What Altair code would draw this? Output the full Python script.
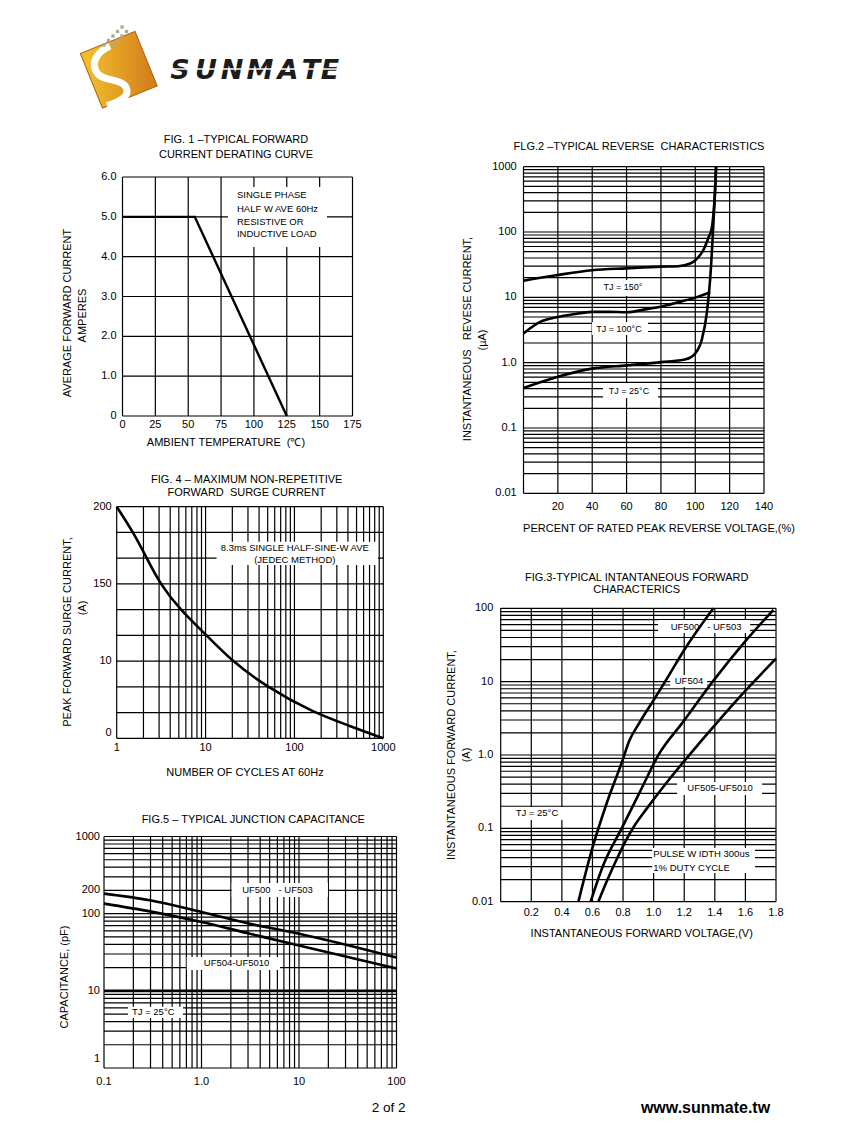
import altair as alt
import pandas as pd

FONT = "Liberation Sans"
W, H = 831, 1109
NB = "\u00a0"

# ---------------- Fig 1 data ----------------
F1_XTICKS = [0, 25, 50, 75, 100, 125, 150, 175]
F1_XLABELS = ["0", "25", "50", "75", "100", "125", "150", "175"]
F1_YTICKS = [0, 1, 2, 3, 4, 5, 6]
F1_YLABELS = ["0", "1.0", "2.0", "3.0", "4.0", "5.0", "6.0"]
F1_TEMP = [0, 55, 125]
F1_AMPS = [5.0, 5.0, 0.0]
F1_NOTE = ["SINGLE PHASE", "HALF W AVE 60Hz", "RESISTIVE OR", "INDUCTIVE LOAD"]
F1_NOTE_Y = [5.55, 5.2, 4.87, 4.57]

# ---------------- Fig 2 data ----------------
F2_XTICKS = [0, 20, 40, 60, 80, 100, 120, 140]
F2_XLAB_POS = [20, 40, 60, 80, 100, 120, 140]
F2_XLABELS = ["20", "40", "60", "80", "100", "120", "140"]
F2_YLAB_POS = [0.01, 0.1, 1, 10, 100, 1000]
F2_YLABELS = ["0.01", "0.1", "1.0", "10", "100", "1000"]
F2_X150 = [0, 20, 40, 60, 80, 90, 97, 100, 104.7, 107.6, 109.6, 110.5, 111.7, 112.1]
F2_Y150 = [18, 22, 26, 27.8, 29.5, 30, 33, 37, 53, 81, 115, 182, 525, 1000]
F2_X100 = [0, 9.7, 20, 29, 40, 50, 60, 71.6, 80, 90.7, 100, 108.7]
F2_Y100 = [2.8, 4.2, 5.0, 5.5, 6.0, 6.0, 5.9, 6.6, 7.2, 8.5, 9.9, 12]
F2_X25 = [0, 20, 40, 60, 80, 94.5, 100, 103.9, 106.8, 108.7, 110.2, 111.2, 112.1]
F2_Y25 = [0.41, 0.61, 0.81, 0.91, 1.02, 1.13, 1.39, 2.3, 6.0, 19.6, 90, 291, 1000]

# ---------------- Fig 4 data ----------------
F4_XLAB_POS = [1, 10, 100, 1000]
F4_XLABELS = ["1", "10", "100", "1000"]
F4_YGRID = [0, 1, 2, 3, 4, 5, 6, 7, 8, 9]
F4_YLAB_POS = [9, 6, 3, 0.2]
F4_YLABELS = ["200", "150", "10", "0"]
F4_CYCLES = [1, 1.54, 2.18, 3.07, 5.15, 10.3, 19.7, 48.7, 163, 404, 1000]
F4_SURGE = [9.0, 8.0, 7.0, 6.0, 5.0, 4.0, 3.0, 2.0, 1.0, 0.5, 0.0]

# ---------------- Fig 3 data ----------------
F3_XTICKS = [0, 0.2, 0.4, 0.6, 0.8, 1.0, 1.2, 1.4, 1.6, 1.8]
F3_XLAB_POS = [0.2, 0.4, 0.6, 0.8, 1.0, 1.2, 1.4, 1.6, 1.8]
F3_XLABELS = ["0.2", "0.4", "0.6", "0.8", "1.0", "1.2", "1.4", "1.6", "1.8"]
F3_YLAB_POS = [0.01, 0.1, 1, 10, 100]
F3_YLABELS = ["0.01", "0.1", "1.0", "10", "100"]
F3_V_A = [0.508, 0.595, 0.693, 0.797, 0.84, 0.9, 1.0, 1.075, 1.2, 1.39]
F3_I_A = [0.01, 0.05, 0.22, 0.85, 1.55, 2.6, 5.6, 10, 27, 100]
F3_V_B = [0.588, 0.671, 0.791, 0.911, 1.031, 1.194, 1.386, 1.586, 1.782]
F3_I_B = [0.01, 0.0316, 0.1, 0.316, 1.0, 2.85, 10, 33, 95]
F3_V_C = [0.638, 0.70, 0.76, 0.82, 0.87, 0.95, 1.1, 1.3, 1.55, 1.8]
F3_I_C = [0.01, 0.0204, 0.0385, 0.069, 0.105, 0.18, 0.46, 1.46, 5.8, 20.6]

# ---------------- Fig 5 data ----------------
F5_XLAB_POS = [0.1, 1, 10, 100]
F5_XLABELS = ["0.1", "1.0", "10", "100"]
F5_YLAB_POS = [1000, 200, 100, 10, 1.3]
F5_YLABELS = ["1000", "200", "100", "10", "1"]
F5_VR = [0.1, 0.296, 1, 3.13, 10, 100]
F5_C_A = [182, 149, 105, 74, 55, 27]
F5_C_B = [135, 107, 78, 55, 38.6, 19.5]


def log_lines(lo_exp, hi_exp):
    out = []
    for e in range(lo_exp, hi_exp):
        for k in range(1, 10):
            out.append(round(k * 10 ** e, 6))
    out.append(10 ** hi_exp)
    return out


def sc(kind, dom, rng):
    if kind == "log":
        return alt.Scale(type="log", domain=dom, range=rng, nice=False)
    return alt.Scale(type="linear", domain=dom, range=rng, nice=False, zero=False)


def vgrid(vals, xs, ys, y0, y1, sw=1.2):
    df = pd.DataFrame({"x": vals, "y0": [y0] * len(vals), "y1": [y1] * len(vals)})
    return alt.Chart(df).mark_rule(color="black", strokeWidth=sw).encode(
        x=alt.X("x:Q", scale=xs, axis=None),
        y=alt.Y("y0:Q", scale=ys, axis=None),
        y2="y1:Q")


def hgrid(vals, xs, ys, x0, x1, sw=1.2):
    df = pd.DataFrame({"y": vals, "x0": [x0] * len(vals), "x1": [x1] * len(vals)})
    return alt.Chart(df).mark_rule(color="black", strokeWidth=sw).encode(
        y=alt.Y("y:Q", scale=ys, axis=None),
        x=alt.X("x0:Q", scale=xs, axis=None),
        x2="x1:Q")


def box(xs, ys, x0, x1, y0, y1):
    df = pd.DataFrame({"x0": [x0], "x1": [x1], "y0": [y0], "y1": [y1]})
    return alt.Chart(df).mark_rect(fill="white").encode(
        x=alt.X("x0:Q", scale=xs, axis=None), x2="x1:Q",
        y=alt.Y("y0:Q", scale=ys, axis=None), y2="y1:Q")


def curve(xs, ys, xv, yv, interp="monotone", sw=2.6):
    df = pd.DataFrame({"x": xv, "y": yv})
    return alt.Chart(df).mark_line(color="black", strokeWidth=sw, interpolate=interp).encode(
        x=alt.X("x:Q", scale=xs, axis=None),
        y=alt.Y("y:Q", scale=ys, axis=None))


def dtext(xs, ys, xv, yv, texts, size=9.5, align="center"):
    df = pd.DataFrame({"x": xv, "y": yv, "t": texts})
    return alt.Chart(df).mark_text(font=FONT, fontSize=size, align=align,
                                   baseline="middle", color="black").encode(
        x=alt.X("x:Q", scale=xs, axis=None),
        y=alt.Y("y:Q", scale=ys, axis=None),
        text="t:N")


def xlabels(xs, vals, labels, ypx, size=11):
    df = pd.DataFrame({"x": vals, "t": labels})
    return alt.Chart(df).mark_text(font=FONT, fontSize=size, align="center",
                                   baseline="middle", color="black").encode(
        x=alt.X("x:Q", scale=xs, axis=None), y=alt.value(ypx), text="t:N")


def ylabels(ys, vals, labels, xpx, size=11):
    df = pd.DataFrame({"y": vals, "t": labels})
    return alt.Chart(df).mark_text(font=FONT, fontSize=size, align="right",
                                   baseline="middle", color="black").encode(
        y=alt.Y("y:Q", scale=ys, axis=None), x=alt.value(xpx), text="t:N")


def ptext(text, x, y, size=11, angle=0, weight="normal", align="center",
          baseline="middle", font=FONT, color="black", italic=False):
    df = pd.DataFrame({"t": [text]})
    kw = dict(font=font, fontSize=size, align=align, baseline=baseline,
              color=color, fontWeight=weight)
    if angle:
        kw["angle"] = angle
    if italic:
        kw["fontStyle"] = "italic"
    return alt.Chart(df).mark_text(**kw).encode(
        x=alt.value(x), y=alt.value(y), text="t:N")


layers = []

# ================= LOGO =================
logo_fill = alt.LinearGradient(
    gradient="linear",
    stops=[alt.GradientStop(color="#f1bd2e", offset=0),
           alt.GradientStop(color="#d5801b", offset=1)],
    x1=0, x2=1, y1=0.3, y2=0.7)
logo_df = pd.DataFrame({"k": ["logo"]})
layers.append(alt.Chart(logo_df).mark_point(
    shape="square", filled=True, size=3481, angle=338, fill=logo_fill,
    stroke="#a86312", strokeWidth=1, opacity=1).encode(
    x=alt.value(110.75), y=alt.value(61.75)))
s_path = "M -0.3 -0.8 C -0.75 -0.6 -1.0 -0.2 -0.7 0.15 C -0.45 0.4 0.1 0.3 0.25 0.6 C 0.4 0.9 0.0 1.1 -0.4 1.22"
layers.append(alt.Chart(logo_df).mark_point(
    shape=s_path, filled=False, size=3481, stroke="white", strokeWidth=7,
    opacity=1).encode(x=alt.value(110.75), y=alt.value(61.75)))
dots = pd.DataFrame({
    "px": [114, 109.5, 118.5, 105, 114, 100.5, 109.5, 96, 105],
    "py": [19, 23.5, 23.5, 28, 28, 32.5, 32.5, 37, 37]})
layers.append(alt.Chart(dots).mark_square(size=11, color="#a3ad8f", opacity=1).encode(
    x=alt.X("px:Q", scale=None, axis=None), y=alt.Y("py:Q", scale=None, axis=None)))
letters = pd.DataFrame({"ch": list("SUNMATE"),
                        "px": [172, 198, 224, 252, 280, 303, 322]})
layers.append(alt.Chart(letters).mark_text(
    font="DejaVu Sans", fontSize=27, fontWeight="bold", fontStyle="italic",
    align="center", baseline="alphabetic", color="#1c1c1c").encode(
    x=alt.X("px:Q", scale=None, axis=None), y=alt.value(70.5), text="ch:N"))
layers.append(alt.Chart(logo_df).mark_rule(color="white", strokeWidth=1.6).encode(
    x=alt.value(158), x2=alt.value(340), y=alt.value(61)))

# ================= FIG 1 =================
xs1 = sc("linear", [0, 175], [114.5, 344.5])
ys1 = sc("linear", [0, 6], [408, 169])
layers += [
    vgrid(F1_XTICKS, xs1, ys1, 0, 6),
    hgrid(F1_YTICKS, xs1, ys1, 0, 175),
    box(xs1, ys1, 80.3, 155.6, 4.24, 5.75),
    dtext(xs1, ys1, [87.1] * 4, F1_NOTE_Y, F1_NOTE, size=9.5, align="left"),
    curve(xs1, ys1, F1_TEMP, F1_AMPS, interp="linear", sw=2.4),
    xlabels(xs1, F1_XTICKS, F1_XLABELS, 417),
    ylabels(ys1, F1_YTICKS, F1_YLABELS, 108.5),
    ptext("FIG. 1 \u2013TYPICAL FORWARD", 228, 132),
    ptext("CURRENT DERATING CURVE", 228, 146.5),
    ptext("AVERAGE FORWARD CURRENT", 60, 305, angle=270),
    ptext("AMPERES", 75, 307.5, angle=270),
    ptext("AMBIENT TEMPERATURE" + NB + NB + "(\u2103)", 218, 435),
]

# ================= FIG 2 =================
xs2 = sc("linear", [0, 140], [515.5, 756])
ys2 = sc("log", [0.01, 1000], [485.3, 158.7])
layers += [
    vgrid(F2_XTICKS, xs2, ys2, 0.01, 1000),
    hgrid(log_lines(-2, 3), xs2, ys2, 0, 140),
    box(xs2, ys2, 43.4, 75.4, 10.5, 18.4),
    box(xs2, ys2, 39.9, 72.5, 2.65, 4.19),
    box(xs2, ys2, 46.3, 78.3, 0.287, 0.488),
    dtext(xs2, ys2, [57.9, 55.6, 61.4], [14.4, 3.33, 0.374],
          ["TJ = 150\u00b0", "TJ = 100\u00b0C", "TJ = 25\u00b0C"], size=9),
    curve(xs2, ys2, F2_X150, F2_Y150),
    curve(xs2, ys2, F2_X100, F2_Y100),
    curve(xs2, ys2, F2_X25, F2_Y25),
    xlabels(xs2, F2_XLAB_POS, F2_XLABELS, 499),
    ylabels(ys2, F2_YLAB_POS, F2_YLABELS, 508.7),
    ptext("FLG.2 \u2013TYPICAL REVERSE" + NB + NB + "CHARACTERISTICS", 631, 138.7),
    ptext("INSTANTANEOUS" + NB + NB + NB + "REVESE CURRENT,", 460.3, 331, angle=270),
    ptext("(\u00b5A)", 475, 332, angle=270),
    ptext("PERCENT OF RATED PEAK REVERSE VOLTAGE,(%)", 651, 521),
]

# ================= FIG 4 =================
xs4 = sc("log", [1, 1000], [108.7, 375.3])
ys4 = sc("linear", [0, 9], [730.3, 498.7])
layers += [
    vgrid(log_lines(0, 3), xs4, ys4, 0, 9),
    hgrid(F4_YGRID, xs4, ys4, 1, 1000),
    box(xs4, ys4, 13.3, 871, 6.73, 7.64),
    dtext(xs4, ys4, [101, 101], [7.38, 6.93],
          ["8.3ms SINGLE HALF-SINE-W AVE", "(JEDEC METHOD)"], size=9.5),
    curve(xs4, ys4, F4_CYCLES, F4_SURGE, interp="basis"),
    xlabels(xs4, F4_XLAB_POS, F4_XLABELS, 739.7),
    ylabels(ys4, F4_YLAB_POS, F4_YLABELS, 103.7),
    ptext("FIG. 4 \u2013 MAXIMUM NON-REPETITIVE", 238.7, 472),
    ptext("FORWARD" + NB + NB + "SURGE CURRENT", 238.7, 485.3),
    ptext("PEAK FORWARD SURGE CURRENT,", 60.3, 624, angle=270),
    ptext("(A)", 75.3, 600, angle=270),
    ptext("NUMBER OF CYCLES AT 60Hz", 237, 765),
]

# ================= FIG 3 =================
xs3 = sc("linear", [0, 1.8], [492.7, 768])
ys3 = sc("log", [0.01, 100], [893.7, 600.3])
layers += [
    vgrid(F3_XTICKS, xs3, ys3, 0.01, 100),
    hgrid(log_lines(-2, 2), xs3, ys3, 0, 1.8),
    box(xs3, ys3, 1.029, 1.631, 46, 69.2),
    box(xs3, ys3, 1.108, 1.350, 8.45, 12.3),
    box(xs3, ys3, 1.153, 1.709, 0.285, 0.428),
    box(xs3, ys3, 0.074, 0.466, 0.130, 0.195),
    box(xs3, ys3, 0.990, 1.663, 0.0246, 0.054),
    dtext(xs3, ys3, [1.343, 1.231, 1.434, 0.237],
          [56.1, 10.2, 0.352, 0.163],
          ["UF500" + NB + NB + NB + "- UF503", "UF504", "UF505-UF5010",
           "TJ = 25\u00b0C"], size=9.5),
    dtext(xs3, ys3, [0.998, 0.998], [0.0443, 0.029],
          ["PULSE W IDTH 300us", "1% DUTY CYCLE"], size=9.5, align="left"),
    curve(xs3, ys3, F3_V_A, F3_I_A),
    curve(xs3, ys3, F3_V_B, F3_I_B),
    curve(xs3, ys3, F3_V_C, F3_I_C),
    xlabels(xs3, F3_XLAB_POS, F3_XLABELS, 905),
    ylabels(ys3, F3_YLAB_POS, F3_YLABELS, 485.3),
    ptext("FIG.3-TYPICAL INTANTANEOUS FORWARD", 628.7, 569.7),
    ptext("CHARACTERICS", 628.7, 582),
    ptext("INSTANTANEOUS FORWARD CURRENT,", 443.7, 747, angle=270),
    ptext("(A)", 458.7, 747, angle=270),
    ptext("INSTANTANEOUS FORWARD VOLTAGE,(V)", 633.7, 926.3),
]

# ================= FIG 5 =================
xs5 = sc("log", [0.1, 100], [96, 388.5])
ys5 = sc("log", [1, 1000], [1060, 828.5])
layers += [
    vgrid(log_lines(-1, 2), xs5, ys5, 1, 1000),
    hgrid(log_lines(0, 3), xs5, ys5, 0.1, 100),
    hgrid([10], xs5, ys5, 0.1, 100, sw=2.6),
    box(xs5, ys5, 2.04, 19.8, 164, 249),
    box(xs5, ys5, 0.705, 6.38, 18.6, 27.5),
    box(xs5, ys5, 0.176, 0.646, 4.45, 6.22),
    dtext(xs5, ys5, [6.02, 2.29, 0.32], [203, 22.7, 5.37],
          ["UF500" + NB + NB + NB + "- UF503", "UF504-UF5010", "TJ = 25\u00b0C"],
          size=9.5),
    curve(xs5, ys5, F5_VR, F5_C_A),
    curve(xs5, ys5, F5_VR, F5_C_B),
    xlabels(xs5, F5_XLAB_POS, F5_XLABELS, 1073.7),
    ylabels(ys5, F5_YLAB_POS, F5_YLABELS, 92),
    ptext("FIG.5 \u2013 TYPICAL JUNCTION CAPACITANCE", 245.3, 812),
    ptext("CAPACITANCE, (pF)", 57, 969, angle=270),
]

# ================= FOOTER =================
layers += [
    ptext("2 of 2", 363.7, 1104, size=13.5, align="left", baseline="alphabetic"),
    ptext("www.sunmate.tw", 697.5, 1104.5, size=16, weight="bold",
          baseline="alphabetic"),
]

chart = alt.layer(*layers).resolve_scale(
    x="independent", y="independent"
).properties(
    width=W, height=H, padding=0,
    autosize=alt.AutoSizeParams(type="none"),
    background="white",
).configure_view(stroke=None)

chart.save("out.html", embed_options={"renderer": "svg", "actions": False})
